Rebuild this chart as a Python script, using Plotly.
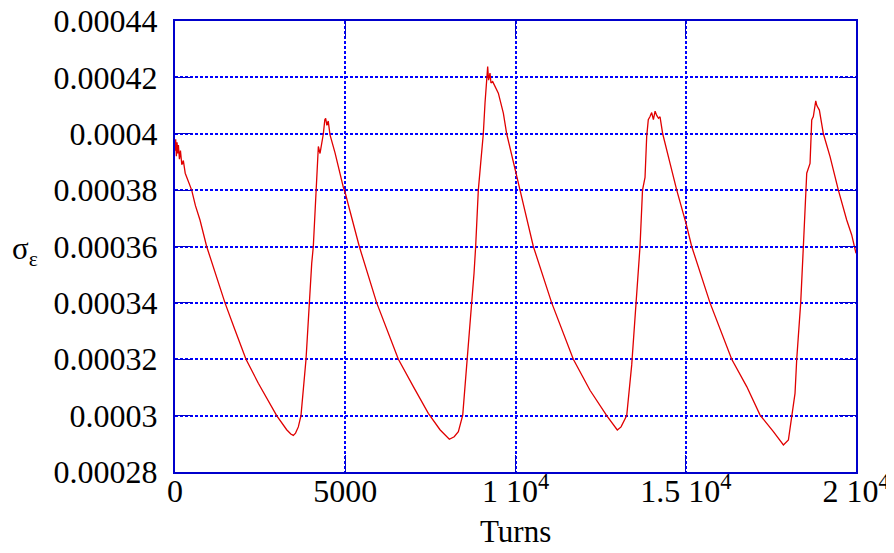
import plotly.graph_objects as go

turns = [0, 20, 40, 60, 80, 100, 130, 160, 200, 245, 300, 370, 490, 600, 734, 930, 1175, 1468,
         1762, 2085, 2447, 2790, 2986, 3280, 3400, 3475, 3540, 3622, 3700, 3848, 3886, 3945, 4015,
         4062, 4141, 4210, 4259, 4300, 4357, 4400, 4425, 4460, 4500, 4553, 4700, 4944, 5000, 5140,
         5413, 5924, 6560, 7000, 7440, 7783, 8057, 8200, 8322, 8450, 8586, 8714, 8782, 8830, 8908,
         8977, 9055, 9105, 9153, 9183, 9210, 9251, 9280, 9330, 9496, 9643, 9741, 9986, 10133,
         10524, 11063, 11698, 12188, 12678, 12990, 13100, 13187, 13266, 13413, 13540, 13657,
         13730, 13804, 13853, 13900, 13951, 14000, 14050, 14100, 14147, 14200, 14245, 14323,
         14539, 14735, 15008, 15175, 15713, 16350, 16791, 17183, 17574, 17868, 18015, 18112,
         18209, 18259, 18376, 18454, 18523, 18553, 18650, 18700, 18747, 18790, 18818, 18850,
         18924, 19042, 19238, 19482, 19727, 19874, 20000]

sigma_eps = [0.000394, 0.000398, 0.000392, 0.000397, 0.000393, 0.000396, 0.000391, 0.000394,
             0.000389, 0.0003905, 0.000386, 0.000384, 0.00038, 0.0003745, 0.0003694, 0.00036,
             0.0003505, 0.00034, 0.0003304, 0.00032, 0.0003115, 0.0003044, 0.0003, 0.000295,
             0.0002935, 0.000293, 0.0002938, 0.000296, 0.0003, 0.00032, 0.000328, 0.00034,
             0.000354, 0.00036, 0.00038, 0.0003955, 0.000393, 0.000396, 0.0004, 0.000405,
             0.0004055, 0.000403, 0.0004045, 0.0003996, 0.0003932, 0.000381, 0.000379, 0.0003725,
             0.00036, 0.00034, 0.00032, 0.0003103, 0.0003008, 0.000295, 0.0002916, 0.0002925,
             0.0002943, 0.0003002, 0.00032, 0.00034, 0.0003505, 0.00036, 0.00038, 0.0003895,
             0.0004, 0.000411, 0.000418, 0.0004238, 0.000419, 0.0004215, 0.000418, 0.0004185,
             0.0004144, 0.0004073, 0.0004, 0.0003871, 0.00038, 0.00036, 0.00034, 0.00032,
             0.000309, 0.0003, 0.0002949, 0.000296, 0.0002984, 0.0003, 0.000318, 0.00034,
             0.00036, 0.00038, 0.0003845, 0.000399, 0.000405, 0.0004061, 0.0004075, 0.000405,
             0.000408, 0.0004065, 0.0004055, 0.000406, 0.0004, 0.0003895, 0.00038, 0.0003682,
             0.00036, 0.00034, 0.00032, 0.0003103, 0.0003002, 0.0002943, 0.0002896, 0.0002914,
             0.0003002, 0.0003079, 0.00032, 0.00034, 0.00036, 0.00038, 0.000386, 0.0003895,
             0.0004049, 0.0004061, 0.000409, 0.0004117, 0.00041, 0.0004084, 0.0004, 0.0003919,
             0.00038, 0.0003694, 0.0003641, 0.0003576]

x_tickvals = [0, 5000, 10000, 15000, 20000]
x_ticktext = ["0", "5000", "1 10<sup>4</sup>", "1.5 10<sup>4</sup>", "2 10<sup>4</sup>"]
y_tickvals = [0.00028, 0.0003, 0.00032, 0.00034, 0.00036, 0.00038, 0.0004, 0.00042, 0.00044]
y_ticktext = ["0.00028", "0.0003", "0.00032", "0.00034", "0.00036", "0.00038", "0.0004",
              "0.00042", "0.00044"]

BLUE = "#0000cc"
GRID = "#0000ff"
FONT = "Liberation Serif"

fig = go.Figure()
fig.add_trace(go.Scatter(x=turns, y=sigma_eps, mode="lines",
                         line=dict(color="#e00000", width=1.3), showlegend=False,
                         hoverinfo="skip"))

axis_common = dict(showline=True, linecolor=BLUE, linewidth=2, mirror="ticks",
                   ticks="inside", ticklen=17, tickcolor=BLUE, tickwidth=1,
                   showgrid=True, gridcolor=GRID, gridwidth=1.5, griddash="3px,2px",
                   zeroline=False, automargin=False, ticklabeloverflow="allow",
                   tickfont=dict(family=FONT, size=32, color="black"))

fig.update_xaxes(range=[0, 20000], tickvals=x_tickvals, ticktext=x_ticktext,
                 ticklabelstandoff=-10, **axis_common)
fig.update_yaxes(range=[0.00028, 0.00044], tickvals=y_tickvals, ticktext=y_ticktext,
                 ticklabelstandoff=9, **axis_common)

fig.add_annotation(text="Turns", xref="paper", yref="paper", x=0.5, y=-0.133,
                   showarrow=False, font=dict(family=FONT, size=31, color="black"),
                   xanchor="center", yanchor="middle")
fig.add_annotation(text="σ<sub>ε</sub>", xref="paper", yref="paper", x=-0.22, y=0.49,
                   showarrow=False, font=dict(family=FONT, size=31, color="black"),
                   xanchor="center", yanchor="middle")

# page body has an 8px default margin, so the figure is sized to fit the window
fig.update_layout(width=886, height=545, margin=dict(l=167, r=38, t=13, b=81),
                  paper_bgcolor="white", plot_bgcolor="white",
                  font=dict(family=FONT, color="black"))

fig.write_html("out.html")
